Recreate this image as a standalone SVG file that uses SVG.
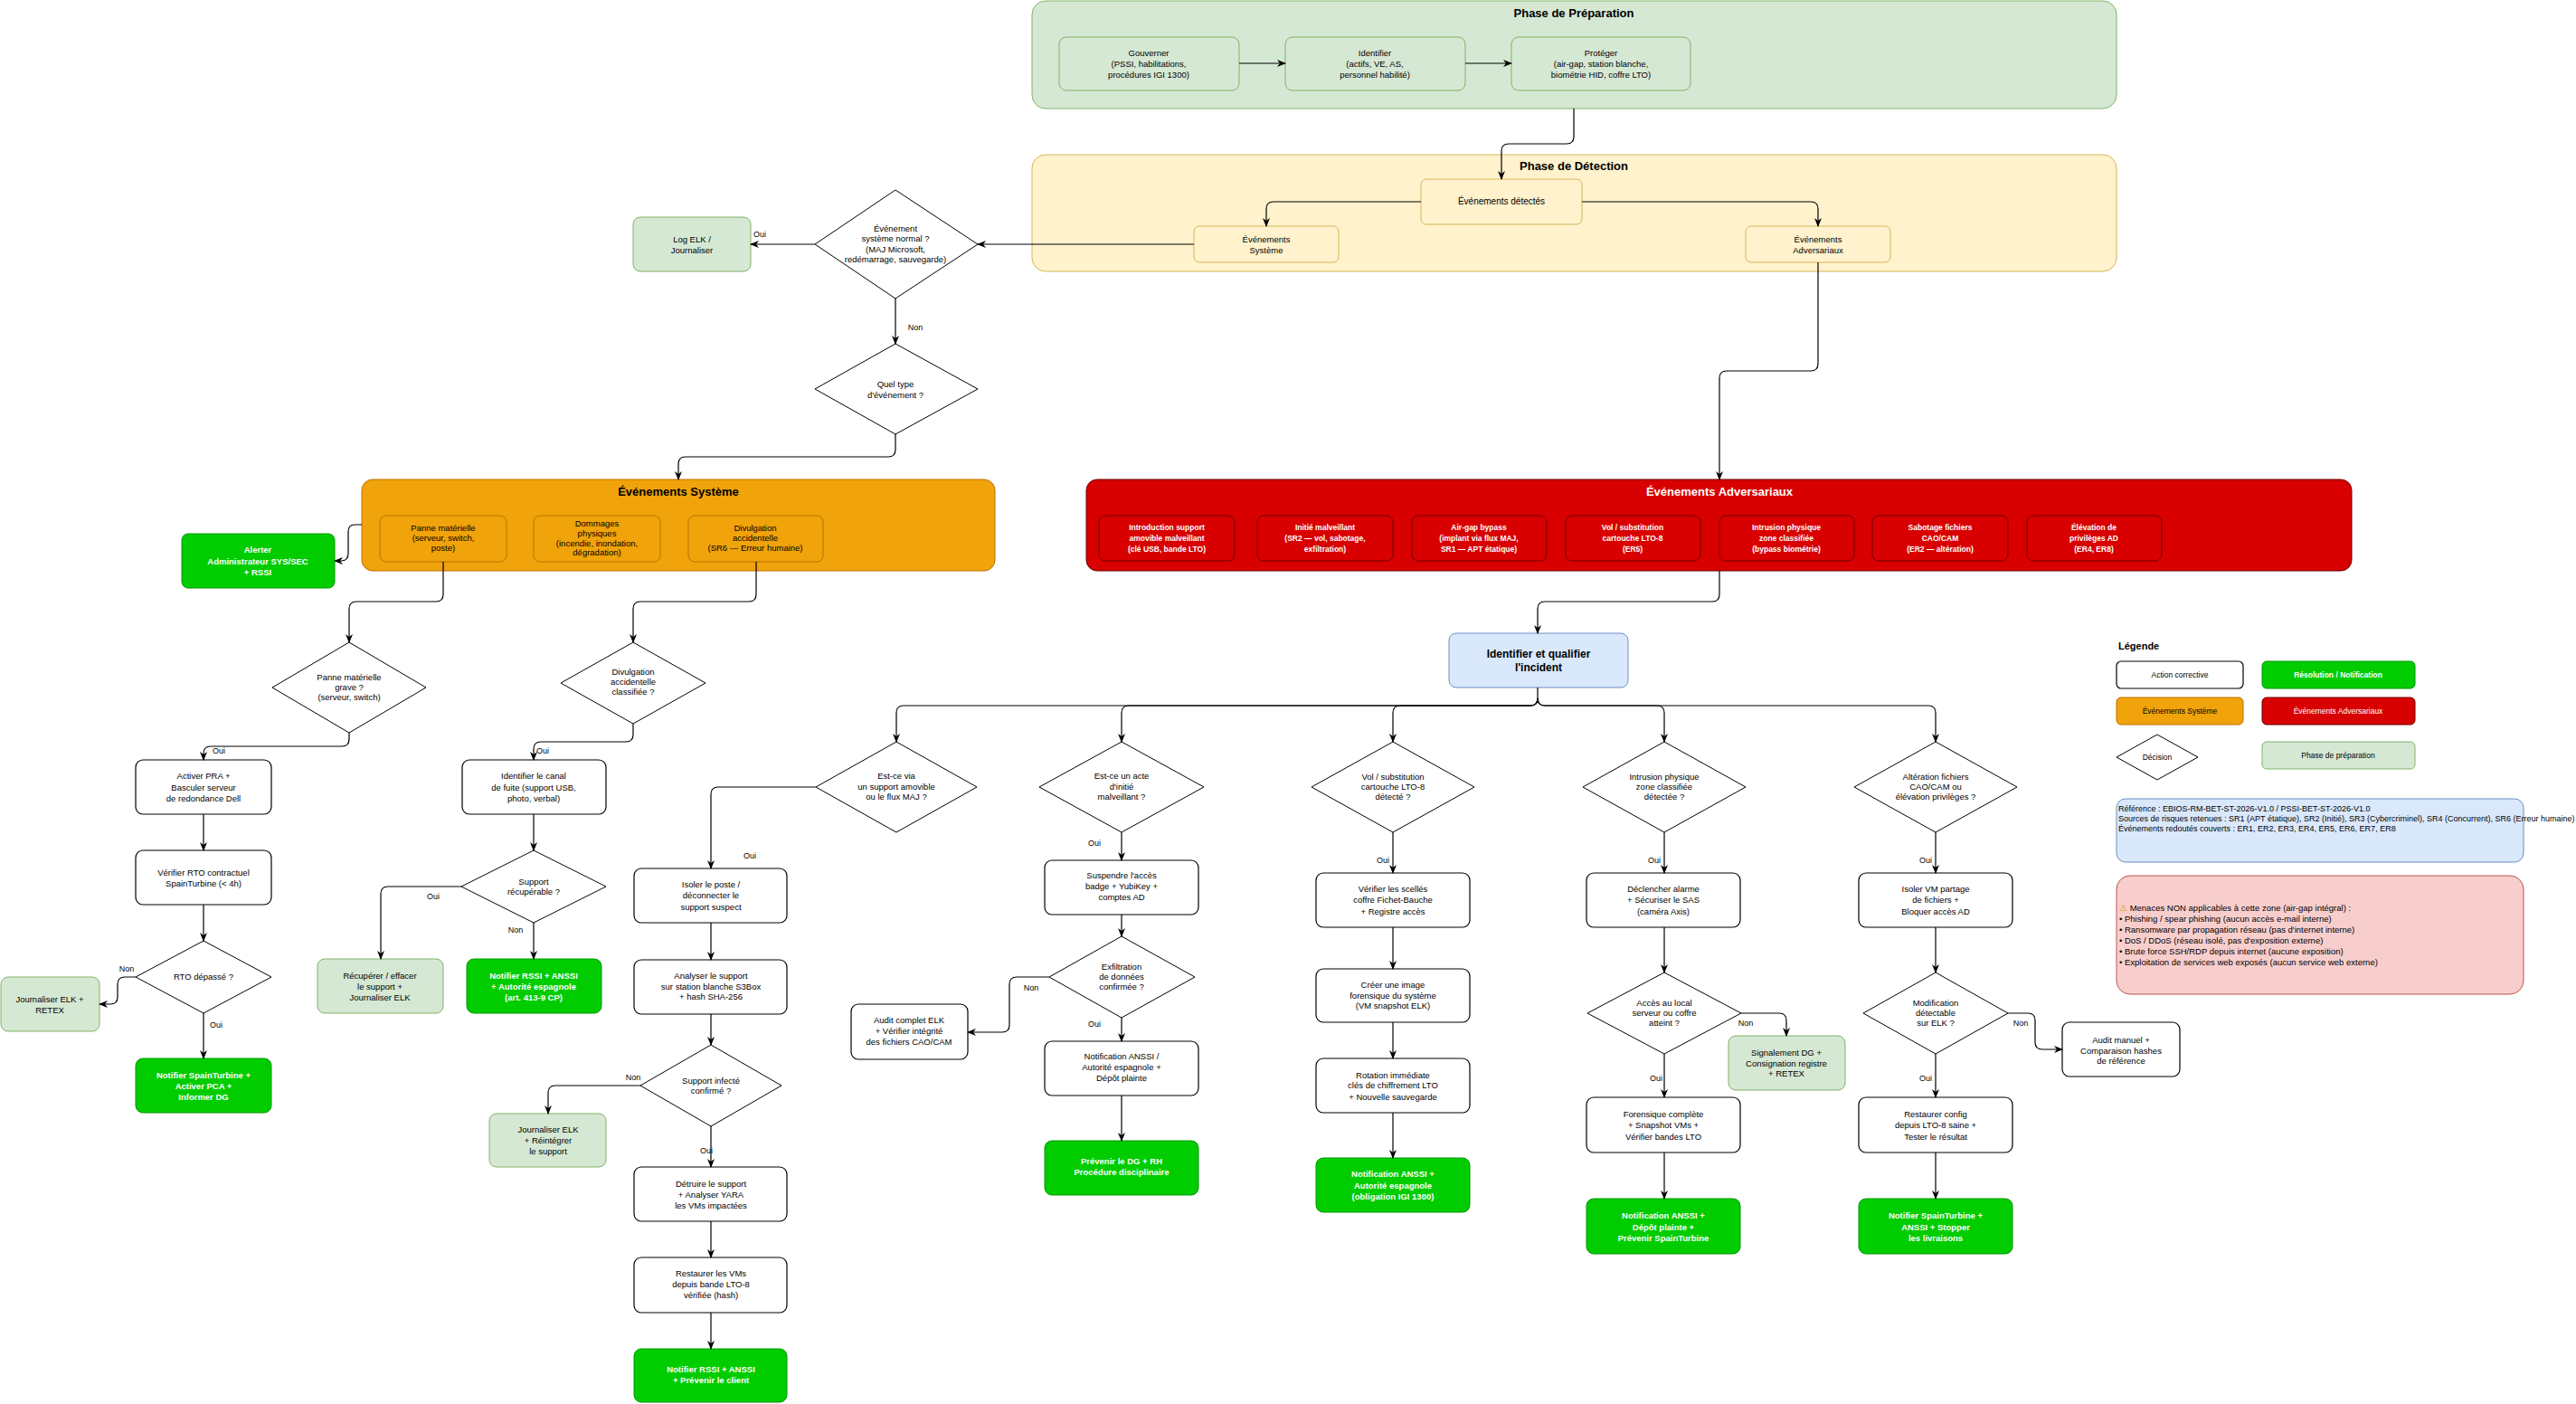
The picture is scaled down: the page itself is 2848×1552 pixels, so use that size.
<svg xmlns="http://www.w3.org/2000/svg" width="2848" height="1552" viewBox="0 0 2848 1552">
<style>
text{font-family:"Liberation Sans",Arial,sans-serif;font-size:9.5px;text-anchor:middle;fill:#000}
.b{font-weight:bold}
.w{fill:#fff}
.l{text-anchor:start}
.act{fill:#fff;stroke:#000;stroke-width:1.2}
.res{fill:#00cc00;stroke:#009900;stroke-width:1}
.lg{fill:#d5e8d4;stroke:#82b366;stroke-width:1}
.ye{fill:#fff2cc;stroke:#d6b656;stroke-width:1}
.or{fill:#f0a30a;stroke:#bd7000;stroke-width:1}
.rd{fill:#d80000;stroke:#6f0000;stroke-width:1}
.bl{fill:#dae8fc;stroke:#6c8ebf;stroke-width:1}
.pk{fill:#f8cecc;stroke:#b85450;stroke-width:1}
.dm{fill:#fff;stroke:#000;stroke-width:1}
#edges path{fill:none;stroke:#000;stroke-width:1.2;marker-end:url(#ar)}
#edges text{font-size:9px}
</style>
<defs>
<marker id="ar" markerUnits="userSpaceOnUse" markerWidth="10" markerHeight="8" refX="9" refY="4" orient="auto"><path d="M0,0 L10,4 L0,8 L3,4 z" fill="#000"/></marker>
</defs>
<rect width="2848" height="1552" fill="#fff"/>

<g id="phase-prep"><rect class="lg" x="1141" y="1" width="1199" height="119" rx="15"/><text class="b" x="1740" y="19" style="font-size:13px">Phase de Préparation</text></g>
<g id="phase-detect"><rect class="ye" x="1141" y="171" width="1199" height="129" rx="15"/><text class="b" x="1740" y="188" style="font-size:13px">Phase de Détection</text></g>

<g id="gouverner"><rect class="lg" x="1171" y="41" width="199" height="59" rx="8"/><text x="1270" y="62">Gouverner</text><text x="1270" y="74">(PSSI, habilitations,</text><text x="1270" y="86">procédures IGI 1300)</text></g>
<g id="identifier"><rect class="lg" x="1421" y="41" width="199" height="59" rx="8"/><text x="1520" y="62">Identifier</text><text x="1520" y="74">(actifs, VE, AS,</text><text x="1520" y="86">personnel habilité)</text></g>
<g id="proteger"><rect class="lg" x="1671" y="41" width="198" height="59" rx="8"/><text x="1770" y="62">Protéger</text><text x="1770" y="74">(air-gap, station blanche,</text><text x="1770" y="86">biométrie HID, coffre LTO)</text></g>

<g id="detectes"><rect class="ye" x="1571" y="198" width="178" height="50" rx="6"/><text x="1660" y="226" style="font-size:10px">Événements détectés</text></g>
<g id="evt-sys"><rect class="ye" x="1320" y="250" width="160" height="40" rx="6"/><text x="1400" y="268">Événements</text><text x="1400" y="280">Système</text></g>
<g id="evt-adv"><rect class="ye" x="1930" y="250" width="160" height="40" rx="6"/><text x="2010" y="268">Événements</text><text x="2010" y="280">Adversariaux</text></g>

<g id="d-normal"><polygon class="dm" points="990,210 1081,270 990,330 901,270"/><text x="990" y="256">Événement</text><text x="990" y="267">système normal ?</text><text x="990" y="279">(MAJ Microsoft,</text><text x="990" y="290">redémarrage, sauvegarde)</text></g>
<g id="log-elk"><rect class="lg" x="700" y="240" width="130" height="60" rx="8"/><text x="765" y="268">Log ELK /</text><text x="765" y="280">Journaliser</text></g>
<g id="d-type"><polygon class="dm" points="990,380 1081,430 990,480 901,430"/><text x="990" y="428">Quel type</text><text x="990" y="440">d'événement ?</text></g>

<g id="sys-container"><rect class="or" x="400" y="530" width="700" height="101" rx="12"/><text class="b" x="750" y="548" style="font-size:13px">Événements Système</text></g>
<g id="panne"><rect class="or" x="420" y="570" width="140" height="51" rx="7"/><text x="490" y="587">Panne matérielle</text><text x="490" y="598">(serveur, switch,</text><text x="490" y="609">poste)</text></g>
<g id="dommages"><rect class="or" x="590" y="570" width="140" height="51" rx="7"/><text x="660" y="582">Dommages</text><text x="660" y="593">physiques</text><text x="660" y="604">(incendie, inondation,</text><text x="660" y="614">dégradation)</text></g>
<g id="divulgation"><rect class="or" x="761" y="570" width="149" height="51" rx="7"/><text x="835" y="587">Divulgation</text><text x="835" y="598">accidentelle</text><text x="835" y="609">(SR6 — Erreur humaine)</text></g>
<g id="alerter"><rect class="res" x="201" y="590" width="169" height="60" rx="7"/><text class="b w" x="285" y="611">Alerter</text><text class="b w" x="285" y="624">Administrateur SYS/SEC</text><text class="b w" x="285" y="636">+ RSSI</text></g>

<g id="adv-container"><rect class="rd" x="1201" y="530" width="1399" height="101" rx="12"/><text class="b w" x="1901" y="548" style="font-size:13px">Événements Adversariaux</text></g>
<g id="adv1"><rect class="rd" x="1215" y="570" width="150" height="50" rx="7"/><text class="b w" x="1290" y="586" style="font-size:8.5px">Introduction support</text><text class="b w" x="1290" y="598" style="font-size:8.5px">amovible malveillant</text><text class="b w" x="1290" y="610" style="font-size:8.5px">(clé USB, bande LTO)</text></g>
<g id="adv2"><rect class="rd" x="1390" y="570" width="150" height="50" rx="7"/><text class="b w" x="1465" y="586" style="font-size:8.5px">Initié malveillant</text><text class="b w" x="1465" y="598" style="font-size:8.5px">(SR2 — vol, sabotage,</text><text class="b w" x="1465" y="610" style="font-size:8.5px">exfiltration)</text></g>
<g id="adv3"><rect class="rd" x="1561" y="570" width="149" height="50" rx="7"/><text class="b w" x="1635" y="586" style="font-size:8.5px">Air-gap bypass</text><text class="b w" x="1635" y="598" style="font-size:8.5px">(implant via flux MAJ,</text><text class="b w" x="1635" y="610" style="font-size:8.5px">SR1 — APT étatique)</text></g>
<g id="adv4"><rect class="rd" x="1731" y="570" width="149" height="50" rx="7"/><text class="b w" x="1805" y="586" style="font-size:8.5px">Vol / substitution</text><text class="b w" x="1805" y="598" style="font-size:8.5px">cartouche LTO-8</text><text class="b w" x="1805" y="610" style="font-size:8.5px">(ER5)</text></g>
<g id="adv5"><rect class="rd" x="1901" y="570" width="149" height="50" rx="7"/><text class="b w" x="1975" y="586" style="font-size:8.5px">Intrusion physique</text><text class="b w" x="1975" y="598" style="font-size:8.5px">zone classifiée</text><text class="b w" x="1975" y="610" style="font-size:8.5px">(bypass biométrie)</text></g>
<g id="adv6"><rect class="rd" x="2070" y="570" width="150" height="50" rx="7"/><text class="b w" x="2145" y="586" style="font-size:8.5px">Sabotage fichiers</text><text class="b w" x="2145" y="598" style="font-size:8.5px">CAO/CAM</text><text class="b w" x="2145" y="610" style="font-size:8.5px">(ER2 — altération)</text></g>
<g id="adv7"><rect class="rd" x="2241" y="570" width="149" height="50" rx="7"/><text class="b w" x="2315" y="586" style="font-size:8.5px">Élévation de</text><text class="b w" x="2315" y="598" style="font-size:8.5px">privilèges AD</text><text class="b w" x="2315" y="610" style="font-size:8.5px">(ER4, ER8)</text></g>

<g id="qualifier"><rect class="bl" x="1602" y="700" width="198" height="60" rx="8"/><text class="b" x="1701" y="727" style="font-size:12px">Identifier et qualifier</text><text class="b" x="1701" y="742" style="font-size:12px">l'incident</text></g>

<!-- system branch -->
<g id="d-panne"><polygon class="dm" points="386,710 471,760 386,810 301,760"/><text x="386" y="752">Panne matérielle</text><text x="386" y="763">grave ?</text><text x="386" y="774">(serveur, switch)</text></g>
<g id="d-div"><polygon class="dm" points="700,710 780,755 700,800 620,755"/><text x="700" y="746">Divulgation</text><text x="700" y="757">accidentelle</text><text x="700" y="768">classifiée ?</text></g>
<g id="pra"><rect class="act" x="150" y="840" width="150" height="60" rx="8"/><text x="225" y="861">Activer PRA +</text><text x="225" y="874">Basculer serveur</text><text x="225" y="886">de redondance Dell</text></g>
<g id="rto"><rect class="act" x="150" y="940" width="150" height="60" rx="8"/><text x="225" y="968">Vérifier RTO contractuel</text><text x="225" y="980">SpainTurbine (&lt; 4h)</text></g>
<g id="d-rto"><polygon class="dm" points="225,1040 300,1080 225,1120 150,1080"/><text x="225" y="1083">RTO dépassé ?</text></g>
<g id="journ-retex"><rect class="lg" x="1" y="1080" width="109" height="60" rx="8"/><text x="55" y="1108">Journaliser ELK +</text><text x="55" y="1120">RETEX</text></g>
<g id="notif-st"><rect class="res" x="150" y="1170" width="150" height="60" rx="8"/><text class="b w" x="225" y="1192">Notifier SpainTurbine +</text><text class="b w" x="225" y="1204">Activer PCA +</text><text class="b w" x="225" y="1216">Informer DG</text></g>
<g id="canal"><rect class="act" x="511" y="840" width="159" height="60" rx="8"/><text x="590" y="861">Identifier le canal</text><text x="590" y="874">de fuite (support USB,</text><text x="590" y="886">photo, verbal)</text></g>
<g id="d-recup"><polygon class="dm" points="590,940 670,980 590,1020 510,980"/><text x="590" y="978">Support</text><text x="590" y="989">récupérable ?</text></g>
<g id="recuperer"><rect class="lg" x="351" y="1060" width="139" height="60" rx="8"/><text x="420" y="1082">Récupérer / effacer</text><text x="420" y="1094">le support +</text><text x="420" y="1106">Journaliser ELK</text></g>
<g id="notif-rssi-art"><rect class="res" x="516" y="1060" width="149" height="60" rx="8"/><text class="b w" x="590" y="1082">Notifier RSSI + ANSSI</text><text class="b w" x="590" y="1094">+ Autorité espagnole</text><text class="b w" x="590" y="1106">(art. 413-9 CP)</text></g>

<!-- adversarial branches -->
<g id="d-via"><polygon class="dm" points="991,820 1080,870 991,920 902,870"/><text x="991" y="861">Est-ce via</text><text x="991" y="873">un support amovible</text><text x="991" y="884">ou le flux MAJ ?</text></g>
<g id="isoler-poste"><rect class="act" x="701" y="960" width="169" height="60" rx="8"/><text x="786" y="981">Isoler le poste /</text><text x="786" y="993">déconnecter le</text><text x="786" y="1006">support suspect</text></g>
<g id="analyser"><rect class="act" x="701" y="1061" width="169" height="60" rx="8"/><text x="786" y="1082">Analyser le support</text><text x="786" y="1094">sur station blanche S3Box</text><text x="786" y="1105">+ hash SHA-256</text></g>
<g id="d-infecte"><polygon class="dm" points="786,1155 864,1200 786,1245 708,1200"/><text x="786" y="1198">Support infecté</text><text x="786" y="1209">confirmé ?</text></g>
<g id="reintegrer"><rect class="lg" x="541" y="1231" width="129" height="59" rx="8"/><text x="606" y="1252">Journaliser ELK</text><text x="606" y="1264">+ Réintégrer</text><text x="606" y="1276">le support</text></g>
<g id="detruire"><rect class="act" x="701" y="1290" width="169" height="60" rx="8"/><text x="786" y="1312">Détruire le support</text><text x="786" y="1324">+ Analyser YARA</text><text x="786" y="1336">les VMs impactées</text></g>
<g id="restaurer-vms"><rect class="act" x="701" y="1390" width="169" height="61" rx="8"/><text x="786" y="1411">Restaurer les VMs</text><text x="786" y="1423">depuis bande LTO-8</text><text x="786" y="1435">vérifiée (hash)</text></g>
<g id="notif-client"><rect class="res" x="701" y="1491" width="169" height="59" rx="8"/><text class="b w" x="786" y="1517">Notifier RSSI + ANSSI</text><text class="b w" x="786" y="1529">+ Prévenir le client</text></g>

<g id="d-initie"><polygon class="dm" points="1240,820 1331,870 1240,920 1149,870"/><text x="1240" y="861">Est-ce un acte</text><text x="1240" y="873">d'initié</text><text x="1240" y="884">malveillant ?</text></g>
<g id="suspendre"><rect class="act" x="1155" y="951" width="170" height="60" rx="8"/><text x="1240" y="971">Suspendre l'accès</text><text x="1240" y="983">badge + YubiKey +</text><text x="1240" y="995">comptes AD</text></g>
<g id="d-exfil"><polygon class="dm" points="1240,1035 1321,1080 1240,1125 1160,1080"/><text x="1240" y="1072">Exfiltration</text><text x="1240" y="1083">de données</text><text x="1240" y="1094">confirmée ?</text></g>
<g id="audit-complet"><rect class="act" x="941" y="1110" width="129" height="61" rx="8"/><text x="1005" y="1131">Audit complet ELK</text><text x="1005" y="1143">+ Vérifier intégrité</text><text x="1005" y="1155">des fichiers CAO/CAM</text></g>
<g id="notif-anssi-plainte"><rect class="act" x="1155" y="1151" width="170" height="60" rx="8"/><text x="1240" y="1171">Notification ANSSI /</text><text x="1240" y="1183">Autorité espagnole +</text><text x="1240" y="1195">Dépôt plainte</text></g>
<g id="prevenir-dg"><rect class="res" x="1155" y="1261" width="170" height="60" rx="8"/><text class="b w" x="1240" y="1287">Prévenir le DG + RH</text><text class="b w" x="1240" y="1299">Procédure disciplinaire</text></g>

<g id="d-vol"><polygon class="dm" points="1540,820 1630,870 1540,920 1450,870"/><text x="1540" y="862">Vol / substitution</text><text x="1540" y="873">cartouche LTO-8</text><text x="1540" y="884">détecté ?</text></g>
<g id="scelles"><rect class="act" x="1455" y="965" width="170" height="60" rx="8"/><text x="1540" y="986">Vérifier les scellés</text><text x="1540" y="998">coffre Fichet-Bauche</text><text x="1540" y="1011">+ Registre accès</text></g>
<g id="image"><rect class="act" x="1455" y="1071" width="170" height="59" rx="8"/><text x="1540" y="1092">Créer une image</text><text x="1540" y="1104">forensique du système</text><text x="1540" y="1115">(VM snapshot ELK)</text></g>
<g id="rotation"><rect class="act" x="1455" y="1170" width="170" height="60" rx="8"/><text x="1540" y="1192">Rotation immédiate</text><text x="1540" y="1203">clés de chiffrement LTO</text><text x="1540" y="1216">+ Nouvelle sauvegarde</text></g>
<g id="notif-igi"><rect class="res" x="1455" y="1280" width="170" height="60" rx="8"/><text class="b w" x="1540" y="1301">Notification ANSSI +</text><text class="b w" x="1540" y="1314">Autorité espagnole</text><text class="b w" x="1540" y="1326">(obligation IGI 1300)</text></g>

<g id="d-intrusion"><polygon class="dm" points="1840,820 1930,870 1840,920 1750,870"/><text x="1840" y="862">Intrusion physique</text><text x="1840" y="873">zone classifiée</text><text x="1840" y="884">détectée ?</text></g>
<g id="alarme"><rect class="act" x="1754" y="965" width="170" height="60" rx="8"/><text x="1839" y="986">Déclencher alarme</text><text x="1839" y="998">+ Sécuriser le SAS</text><text x="1839" y="1011">(caméra Axis)</text></g>
<g id="d-acces"><polygon class="dm" points="1840,1075 1925,1120 1840,1165 1755,1120"/><text x="1840" y="1112">Accès au local</text><text x="1840" y="1123">serveur ou coffre</text><text x="1840" y="1134">atteint ?</text></g>
<g id="signalement"><rect class="lg" x="1911" y="1145" width="129" height="60" rx="8"/><text x="1975" y="1167">Signalement DG +</text><text x="1975" y="1179">Consignation registre</text><text x="1975" y="1190">+ RETEX</text></g>
<g id="forensique"><rect class="act" x="1754" y="1213" width="170" height="61" rx="8"/><text x="1839" y="1235">Forensique complète</text><text x="1839" y="1247">+ Snapshot VMs +</text><text x="1839" y="1260">Vérifier bandes LTO</text></g>
<g id="notif-depot"><rect class="res" x="1754" y="1325" width="170" height="61" rx="8"/><text class="b w" x="1839" y="1347">Notification ANSSI +</text><text class="b w" x="1839" y="1360">Dépôt plainte +</text><text class="b w" x="1839" y="1372">Prévenir SpainTurbine</text></g>

<g id="d-alteration"><polygon class="dm" points="2140,820 2230,870 2140,920 2050,870"/><text x="2140" y="862">Altération fichiers</text><text x="2140" y="873">CAO/CAM ou</text><text x="2140" y="884">élévation privilèges ?</text></g>
<g id="isoler-vm"><rect class="act" x="2055" y="965" width="170" height="60" rx="8"/><text x="2140" y="986">Isoler VM partage</text><text x="2140" y="998">de fichiers +</text><text x="2140" y="1011">Bloquer accès AD</text></g>
<g id="d-modif"><polygon class="dm" points="2140,1075 2220,1120 2140,1165 2060,1120"/><text x="2140" y="1112">Modification</text><text x="2140" y="1123">détectable</text><text x="2140" y="1134">sur ELK ?</text></g>
<g id="audit-manuel"><rect class="act" x="2280" y="1130" width="130" height="60" rx="8"/><text x="2345" y="1153">Audit manuel +</text><text x="2345" y="1165">Comparaison hashes</text><text x="2345" y="1176">de référence</text></g>
<g id="restaurer-config"><rect class="act" x="2055" y="1213" width="170" height="61" rx="8"/><text x="2140" y="1235">Restaurer config</text><text x="2140" y="1247">depuis LTO-8 saine +</text><text x="2140" y="1260">Tester le résultat</text></g>
<g id="notif-stopper"><rect class="res" x="2055" y="1325" width="170" height="61" rx="8"/><text class="b w" x="2140" y="1347">Notifier SpainTurbine +</text><text class="b w" x="2140" y="1360">ANSSI + Stopper</text><text class="b w" x="2140" y="1372">les livraisons</text></g>

<!-- legend -->
<g id="legend">
<text class="b l" x="2342" y="718" style="font-size:11px">Légende</text>
<rect class="act" x="2340" y="731" width="140" height="30" rx="5"/><text x="2410" y="749" style="font-size:8.5px">Action corrective</text>
<rect class="res" x="2501" y="731" width="169" height="30" rx="5"/><text class="b w" x="2585" y="749" style="font-size:8.5px">Résolution / Notification</text>
<rect class="or" x="2340" y="771" width="140" height="30" rx="5"/><text x="2410" y="789" style="font-size:8.5px">Événements Système</text>
<rect class="rd" x="2501" y="771" width="169" height="30" rx="5"/><text class="w" x="2585" y="789" style="font-size:8.5px">Événements Adversariaux</text>
<polygon class="dm" points="2385,812 2430,837 2385,862 2340,837"/><text x="2385" y="840" style="font-size:8.5px">Décision</text>
<rect class="lg" x="2501" y="820" width="169" height="30" rx="5"/><text x="2585" y="838" style="font-size:8.5px">Phase de préparation</text>
</g>
<g id="reference"><rect class="bl" x="2340" y="883" width="450" height="70" rx="10"/>
<text class="l" x="2342" y="897" style="font-size:9px">Référence : EBIOS-RM-BET-ST-2026-V1.0 / PSSI-BET-ST-2026-V1.0</text>
<text class="l" x="2342" y="908" style="font-size:9px">Sources de risques retenues : SR1 (APT étatique), SR2 (Initié), SR3 (Cybercriminel), SR4 (Concurrent), SR6 (Erreur humaine)</text>
<text class="l" x="2342" y="919" style="font-size:9px">Événements redoutés couverts : ER1, ER2, ER3, ER4, ER5, ER6, ER7, ER8</text></g>
<g id="non-applicables"><rect class="pk" x="2340" y="968" width="450" height="131" rx="15"/>
<text class="l" x="2343" y="1007" style="font-size:9.5px"><tspan fill="#e6a000">⚠</tspan> Menaces NON applicables à cette zone (air-gap intégral) :</text>
<text class="l" x="2343" y="1019" style="font-size:9.5px">• Phishing / spear phishing (aucun accès e-mail interne)</text>
<text class="l" x="2343" y="1031" style="font-size:9.5px">• Ransomware par propagation réseau (pas d'internet interne)</text>
<text class="l" x="2343" y="1043" style="font-size:9.5px">• DoS / DDoS (réseau isolé, pas d'exposition externe)</text>
<text class="l" x="2343" y="1055" style="font-size:9.5px">• Brute force SSH/RDP depuis internet (aucune exposition)</text>
<text class="l" x="2343" y="1067" style="font-size:9.5px">• Exploitation de services web exposés (aucun service web externe)</text></g>

<g id="edges">
<path d="M1370,70 L1421,70"/>
<path d="M1620,70 L1671,70"/>
<path d="M1740,120 V151 Q1740,159 1732,159 H1668 Q1660,159 1660,167 V198"/>
<path d="M1571,223 H1408 Q1400,223 1400,231 V250"/>
<path d="M1749,223 H2002 Q2010,223 2010,231 V250"/>
<path d="M1320,270 H1081"/>
<path d="M901,270 H830"/><text class="l" x="833" y="262">Oui</text>
<path d="M990,330 V380"/><text x="1012" y="365">Non</text>
<path d="M990,480 V497 Q990,505 982,505 H758 Q750,505 750,513 V530"/>
<path d="M400,580 H392 Q385,580 385,588 V612 Q385,620 377,620 H370"/>
<path d="M490,621 V657 Q490,665 482,665 H394 Q386,665 386,673 V710"/>
<path d="M836,621 V657 Q836,665 828,665 H708 Q700,665 700,673 V710"/>
<path d="M386,810 V817 Q386,825 378,825 H233 Q225,825 225,833 V840"/><text x="242" y="833">Oui</text>
<path d="M225,900 V940"/>
<path d="M225,1000 V1040"/>
<path d="M150,1080 H138 Q130,1080 130,1088 V1102 Q130,1110 122,1110 H110"/><text x="140" y="1074">Non</text>
<path d="M225,1120 V1170"/><text x="239" y="1136">Oui</text>
<path d="M700,800 V812 Q700,820 692,820 H598 Q590,820 590,828 V840"/><text x="600" y="833">Oui</text>
<path d="M590,900 V940"/>
<path d="M510,980 H429 Q421,980 421,988 V1060"/><text x="479" y="994">Oui</text>
<path d="M590,1020 V1060"/><text x="570" y="1031">Non</text>
<path d="M1700,760 V772 Q1700,780 1692,780 H999 Q991,780 991,788 V820"/>
<path d="M1700,772 Q1700,780 1692,780 H1248 Q1240,780 1240,788 V820"/>
<path d="M1700,772 Q1700,780 1692,780 H1548 Q1540,780 1540,788 V820"/>
<path d="M1700,772 Q1700,780 1708,780 H1832 Q1840,780 1840,788 V820"/>
<path d="M1700,772 Q1700,780 1708,780 H2132 Q2140,780 2140,788 V820"/>
<path d="M902,870 H794 Q786,870 786,878 V960"/><text x="829" y="949">Oui</text>
<path d="M786,1020 V1061"/>
<path d="M786,1121 V1155"/>
<path d="M708,1200 H614 Q606,1200 606,1208 V1231"/><text x="700" y="1194">Non</text>
<path d="M786,1245 V1290"/><text x="781" y="1275">Oui</text>
<path d="M786,1350 V1390"/>
<path d="M786,1451 V1491"/>
<path d="M1240,920 V951"/><text x="1210" y="935">Oui</text>
<path d="M1240,1011 V1035"/>
<path d="M1160,1080 H1124 Q1116,1080 1116,1088 V1133 Q1116,1141 1108,1141 H1070"/><text x="1140" y="1095">Non</text>
<path d="M1240,1125 V1151"/><text x="1210" y="1135">Oui</text>
<path d="M1240,1211 V1261"/>
<path d="M1540,920 V965"/><text x="1529" y="954">Oui</text>
<path d="M1540,1025 V1071"/>
<path d="M1540,1130 V1170"/>
<path d="M1540,1230 V1280"/>
<path d="M1840,920 V965"/><text x="1829" y="954">Oui</text>
<path d="M1840,1025 V1075"/>
<path d="M1925,1120 H1967 Q1975,1120 1975,1128 V1145"/><text x="1930" y="1134">Non</text>
<path d="M1840,1165 V1213"/><text x="1831" y="1195">Oui</text>
<path d="M1840,1274 V1325"/>
<path d="M2140,920 V965"/><text x="2129" y="954">Oui</text>
<path d="M2140,1025 V1075"/>
<path d="M2220,1120 H2242 Q2250,1120 2250,1128 V1152 Q2250,1160 2258,1160 H2280"/><text x="2234" y="1134">Non</text>
<path d="M2140,1165 V1213"/><text x="2129" y="1195">Oui</text>
<path d="M2140,1274 V1325"/>
<path d="M2010,290 V402 Q2010,410 2002,410 H1909 Q1901,410 1901,418 V530"/>
<path d="M1901,631 V657 Q1901,665 1893,665 H1708 Q1700,665 1700,673 V700"/>
</g>
</svg>
